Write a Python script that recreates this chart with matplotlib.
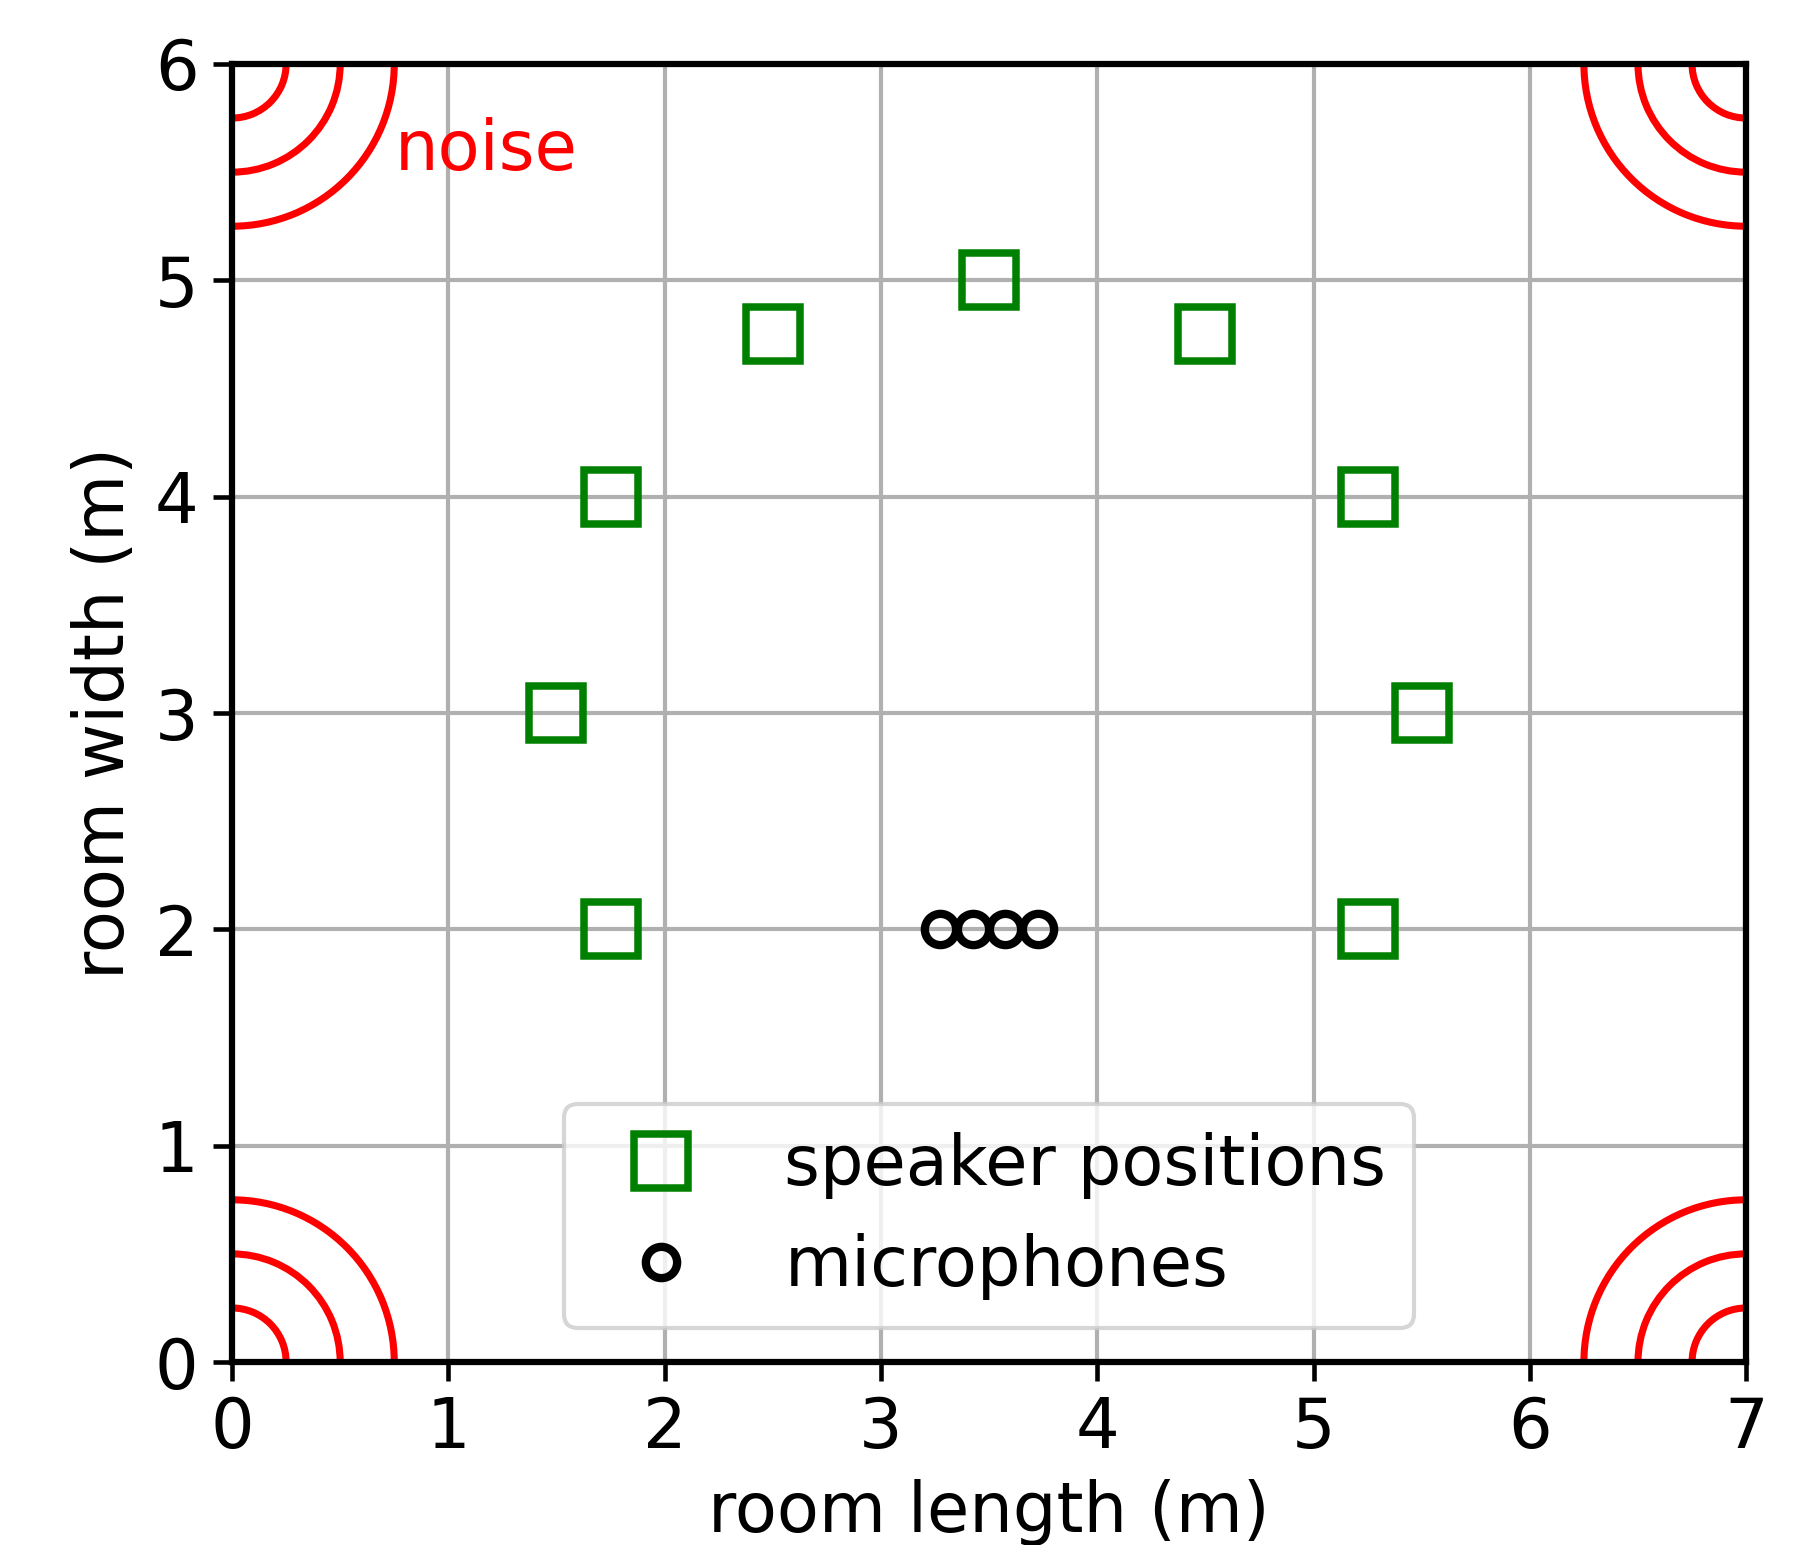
import numpy as np
import matplotlib
matplotlib.use("Agg")
import matplotlib.pyplot as plt
from matplotlib.patches import Arc

# room size (m)
room_length = 7
room_width = 6

# speaker positions
speaker_x = [1.75, 1.5, 1.75, 2.5, 3.5, 4.5, 5.25, 5.5, 5.25]
speaker_y = [2.0, 3.0, 4.0, 4.75, 5.0, 4.75, 4.0, 3.0, 2.0]

# microphone array
mic_x = [3.275, 3.425, 3.575, 3.725]
mic_y = [2.0, 2.0, 2.0, 2.0]

# noise sources in the corners, drawn as rings
noise_corners = [(0, 0), (7, 0), (0, 6), (7, 6)]
noise_radii = [0.25, 0.5, 0.75]

fs = 16.5

fig = plt.figure(figsize=(1817 / 300, 1545 / 300), dpi=300)
ax = fig.add_axes([0.1277, 0.1184, 0.961 - 0.1277, 0.9586 - 0.1184])

ax.grid(True, color="#b0b0b0", linewidth=1.0, zorder=0)
ax.set_axisbelow(True)

for cx, cy in noise_corners:
    for r in noise_radii:
        ax.add_patch(Arc((cx, cy), 2 * r, 2 * r, color="red", linewidth=1.7, zorder=2))

ax.plot(speaker_x, speaker_y, "s", markersize=13, markerfacecolor="none",
        markeredgecolor="green", markeredgewidth=1.8, label="speaker positions", zorder=3)
ax.plot(mic_x, mic_y, "o", markersize=7.5, markerfacecolor="none",
        markeredgecolor="black", markeredgewidth=2.0, label="microphones", zorder=3)

ax.text(0.75, 5.6, "noise", color="red", fontsize=fs, va="center", ha="left")

ax.set_xlim(0, room_length)
ax.set_ylim(0, room_width)
ax.set_xticks(range(0, room_length + 1))
ax.set_yticks(range(0, room_width + 1))
ax.tick_params(labelsize=fs, width=1.1, length=4.5)
for s in ax.spines.values():
    s.set_linewidth(1.5)
ax.set_xlabel("room length (m)", fontsize=fs)
ax.set_ylabel("room width (m)", fontsize=fs)

ax.legend(loc="lower center", fontsize=fs, borderaxespad=0.5)

fig.savefig("out.png", dpi=300)
